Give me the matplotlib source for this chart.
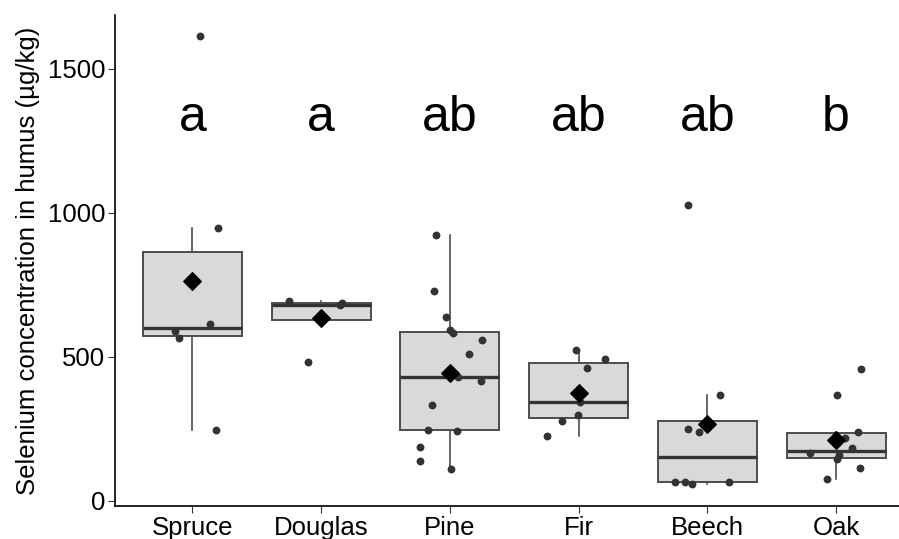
import numpy as np
import matplotlib.pyplot as plt

plt.rcParams['font.family'] = ['Liberation Sans', 'DejaVu Sans']

species = ["Spruce", "Douglas", "Pine", "Fir", "Beech", "Oak"]
letters = ["a", "a", "ab", "ab", "ab", "b"]

spruce = [1613, 947, 612, 589, 565, 245]
douglas = [692, 686, 681, 629, 482]
pine = [922, 727, 638, 593, 581, 559, 508, 429, 414, 331, 247, 242, 186, 139, 110]
fir = [522, 493, 461, 343, 298, 278, 223]
beech = [1027, 368, 248, 237, 66, 66, 64, 59]
oak = [456, 368, 238, 219, 183, 165, 160, 143, 112, 74]

groups = [spruce, douglas, pine, fir, beech, oak]

fig = plt.figure(figsize=(8.99, 5.39), dpi=100)
ax = fig.add_axes([0.128, 0.061, 0.888, 0.911])

pos = np.arange(1, len(species) + 1)
ax.boxplot(groups, positions=pos, widths=0.77, patch_artist=True,
           showfliers=False, whis=1.5,
           boxprops=dict(facecolor="#D9D9D9", edgecolor="#4D4D4D", linewidth=1.4),
           medianprops=dict(color="#333333", linewidth=2.4),
           whiskerprops=dict(color="#4D4D4D", linewidth=1.2),
           capprops=dict(linewidth=0))

# horizontal jitter like geom_jitter
rng = np.random.default_rng(7)
for i, vals in enumerate(groups):
    jit = rng.uniform(-0.25, 0.25, len(vals))
    ax.scatter(pos[i] + jit, vals, s=32, color="#333333", zorder=3, linewidths=0)
    ax.scatter(pos[i], np.mean(vals), marker="D", s=80, color="black", zorder=4)
    ax.text(pos[i], 1330, letters[i], ha="center", va="center", fontsize=36)

ax.set_xlim(0.4, 6.6)
ax.set_ylim(-19, 1686)
ax.set_xticks(pos)
ax.set_xticklabels(species)
ax.set_yticks([0, 500, 1000, 1500])
ax.tick_params(labelsize=18.5, colors="#333333", labelcolor="black", length=5, pad=2)
ax.set_ylabel("Selenium concentration in humus (µg/kg)", fontsize=18.5, labelpad=6)
for s in ["top", "right"]:
    ax.spines[s].set_visible(False)
for s in ["left", "bottom"]:
    ax.spines[s].set_linewidth(1.2)

fig.savefig("out.png", dpi=100)
